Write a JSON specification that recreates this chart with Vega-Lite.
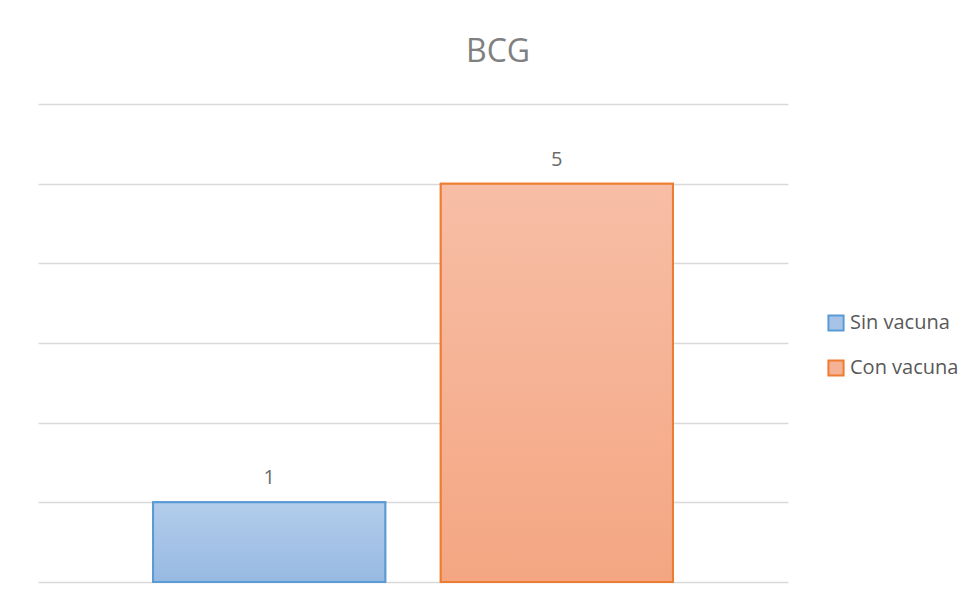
{
  "$schema": "https://vega.github.io/schema/vega-lite/v6.json",
  "width": 750,
  "height": 478,
  "autosize": {"type": "none"},
  "padding": {"left": 38, "top": 104, "right": 191, "bottom": 27},
  "background": "white",
  "config": {
    "view": {"stroke": null},
    "font": "Open Sans"
  },
  "title": {
    "text": "BCG",
    "anchor": "middle",
    "frame": "group",
    "dx": 85,
    "offset": 10,
    "baseline": "alphabetic",
    "fontSize": 32,
    "fontWeight": "normal",
    "color": "#808080",
    "font": "Open Sans"
  },
  "data": {
    "values": [
      {"serie": "Sin vacuna", "valor": 1},
      {"serie": "Con vacuna", "valor": 5}
    ]
  },
  "encoding": {
    "x": {
      "field": "serie",
      "type": "nominal",
      "sort": ["Sin vacuna", "Con vacuna"],
      "scale": {"paddingInner": 0.193, "paddingOuter": 0.4},
      "axis": null
    },
    "y": {
      "field": "valor",
      "type": "quantitative",
      "scale": {"domain": [0, 6], "nice": false},
      "axis": {
        "title": null,
        "labels": false,
        "ticks": false,
        "domain": false,
        "values": [0, 1, 2, 3, 4, 5, 6],
        "grid": true,
        "gridColor": "#d9d9d9",
        "gridWidth": 1.3
      }
    }
  },
  "layer": [
    {
      "mark": {"type": "bar", "strokeWidth": 2},
      "encoding": {
        "fill": {
          "field": "serie",
          "type": "nominal",
          "sort": ["Sin vacuna", "Con vacuna"],
          "scale": {"domain": ["Sin vacuna", "Con vacuna"], "range": ["#a7c4e8", "#f5b195"]},
          "legend": {
            "title": null,
            "orient": "none",
            "legendX": 788,
            "legendY": 209,
            "symbolType": "square",
            "symbolSize": 230,
            "symbolStrokeWidth": 2,
            "labelFont": "Open Sans",
            "labelFontSize": 20,
            "labelColor": "#595959",
            "labelOffset": 4,
            "rowPadding": 21
          }
        },
        "stroke": {
          "field": "serie",
          "type": "nominal",
          "sort": ["Sin vacuna", "Con vacuna"],
          "scale": {"domain": ["Sin vacuna", "Con vacuna"], "range": ["#5b9bd5", "#ed7d31"]},
          "legend": {
            "title": null,
            "orient": "none",
            "legendX": 788,
            "legendY": 209,
            "symbolType": "square",
            "symbolSize": 230,
            "symbolStrokeWidth": 2,
            "labelFont": "Open Sans",
            "labelFontSize": 20,
            "labelColor": "#595959",
            "labelOffset": 4,
            "rowPadding": 21
          }
        }
      }
    },
    {
      "transform": [{"filter": "datum.serie === 'Sin vacuna'"}],
      "mark": {
        "type": "bar",
        "stroke": "#5b9bd5",
        "strokeWidth": 2,
        "fill": {
          "gradient": "linear",
          "x1": 0, "y1": 0, "x2": 0, "y2": 1,
          "stops": [
            {"offset": 0, "color": "#b3cdeb"},
            {"offset": 1, "color": "#97b9e2"}
          ]
        }
      }
    },
    {
      "transform": [{"filter": "datum.serie === 'Con vacuna'"}],
      "mark": {
        "type": "bar",
        "stroke": "#ed7d31",
        "strokeWidth": 2,
        "fill": {
          "gradient": "linear",
          "x1": 0, "y1": 0, "x2": 0, "y2": 1,
          "stops": [
            {"offset": 0, "color": "#f7bea6"},
            {"offset": 1, "color": "#f4a682"}
          ]
        }
      }
    },
    {
      "mark": {
        "type": "text",
        "baseline": "alphabetic",
        "dy": -18,
        "fontSize": 20,
        "font": "Open Sans",
        "color": "#6b6b6b"
      },
      "encoding": {
        "text": {"field": "valor", "type": "quantitative"}
      }
    }
  ]
}
